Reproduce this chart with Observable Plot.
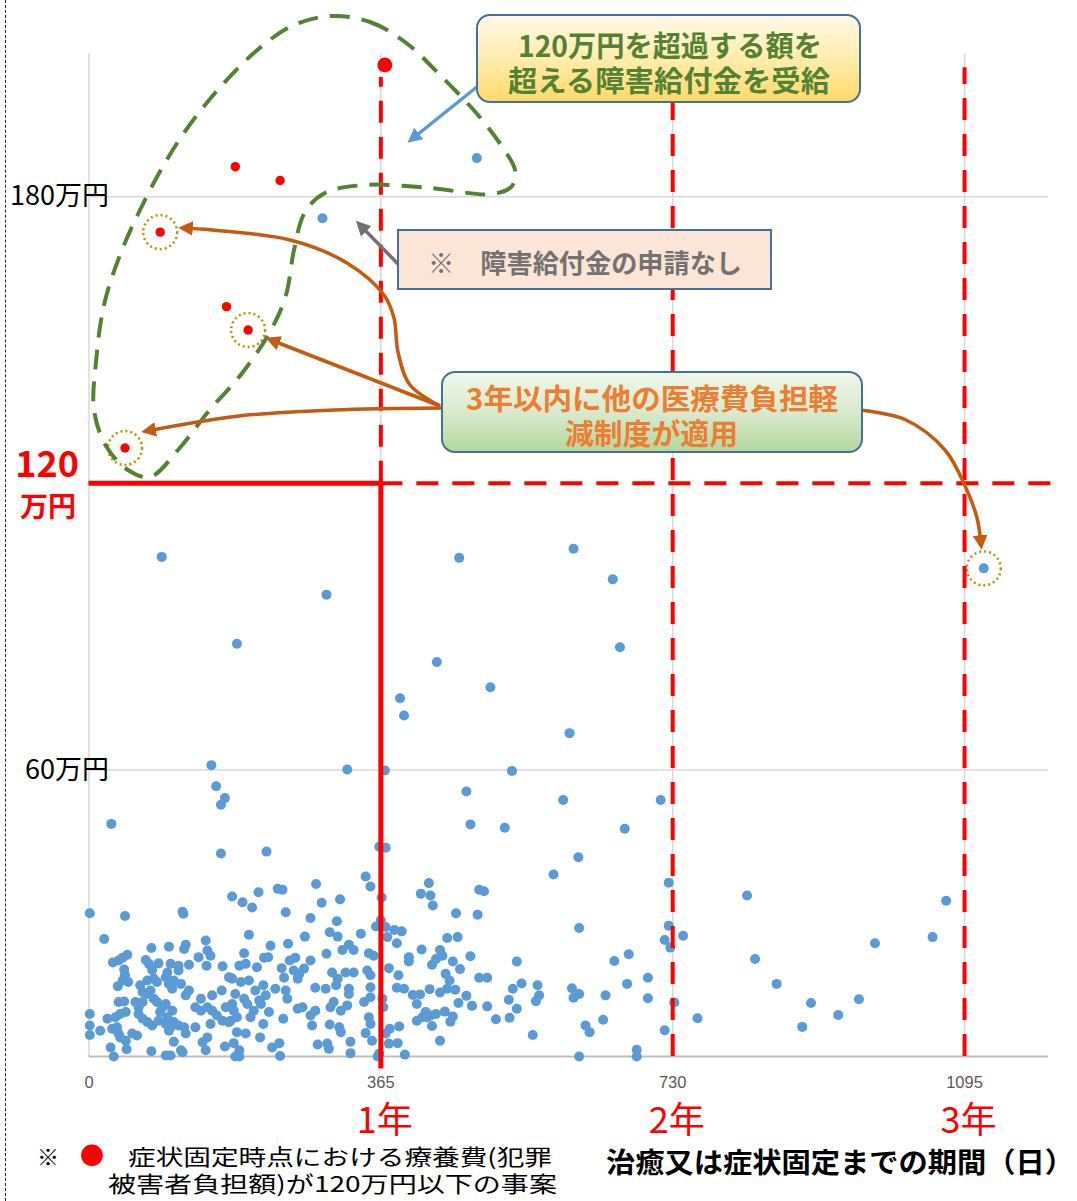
<!DOCTYPE html>
<html><head><meta charset="utf-8">
<script src="https://cdn.jsdelivr.net/npm/d3@7"></script>
<script src="https://cdn.jsdelivr.net/npm/@observablehq/plot@0.6"></script>
<style>
body{margin:0;background:#fff;}
#wrap{position:relative;width:1077px;height:1201px;overflow:hidden;}
#border{position:absolute;left:5px;top:0;height:1201px;border-left:1.5px dashed #222;}
#wrap svg{display:block;}
</style></head><body>
<div id="wrap"><div id="border"></div></div>
<script>
const JP = '"Noto Sans CJK JP", "Noto Sans", sans-serif';

// ---- data: [days until cure/fixation, cost (万円)] ----
const blueCases = [
[91,104.6],[297,96.7],[185,86.4],[463,104.4],[435,82.6],[502,77.3],[389,75.0],[394,71.4],[153,61.0],[323,60.1],[370,59.9],[529,59.8],[159,56.6],[170,54.1],[165,52.7],[472,55.5],[28,48.7],[477,48.6],[520,47.9],[165,42.5],[222,42.9],[363,43.9],[371,43.7],[346,37.7],[581,38.1],
[606,106.3],[655,99.9],[664,85.7],[601,67.7],[1119,102.2],[593,53.7],[715,53.7],[670,47.7],[612,41.7],[725,36.4],[823,33.7],[1072,32.6],[613,26.9],[725,27.4],[720,24.4],[727,22.8],[743,25.3],[983,23.7],[1055,25.0],[833,20.4],[657,20.0],[675,21.4],[860,15.2],[673,15.2],[699,16.5],[699,12.2],[604,14.3],[613,13.1],[606,12.3],[646,12.8],[732,11.3],[761,8.0],[903,11.2],[963,12.0],[937,8.7],[892,6.2],[621,6.5],[626,5.1],[643,7.7],[720,5.5],[685,1.4],[685,0],[613,0],
[485,188.1],[292,175.5],
[179,33.5],[1,30.0],[45,29.4],[117,30.3],[118,29.9],[19,24.6],[100,23.0],[78,22.7],[121,23.4],[119,22.5],[146,24.3],[148,22.2],[152,21.1],[48,21.3],[42,20.7],[30,19.7],[37,20.1],[71,20.2],[75,19.4],[87,19.5],[102,19.4],[112,19.0],[125,19.2],[137,20.8],[147,19.0],[167,18.9],[44,18.2],[45,17.0],[42,15.9],[79,18.1],[98,17.6],[112,18.0],[175,16.6],[179,16.3],[49,15.6],[36,14.7],[64,14.9],[73,15.9],[81,16.3],[85,15.6],[96,16.6],[100,15.2],[106,15.9],[115,15.2],[104,14.2],[125,13.8],[121,12.8],[67,13.5],[73,13.1],[77,13.8],[166,13.8],[154,12.8],[140,12.1],[37,11.4],[44,11.5],[58,11.4],[62,10.3],[67,11.4],[81,12.1],[85,11.4],[92,10.3],[96,11.0],[89,9.3],[104,9.6],[98,8.2],[133,10.3],[140,9.6],[148,10.3],[154,9.6],[160,8.6],[171,10.3],[179,11.0],[1,8.9],[23,7.9],[33,8.2],[39,8.9],[46,9.3],[62,8.9],[67,7.9],[73,7.2],[79,6.5],[87,7.5],[96,6.8],[106,7.2],[112,6.5],[119,6.1],[133,6.1],[152,6.8],[167,7.5],[175,7.2],[1,6.5],[1,4.5],[14,5.4],[29,5.8],[35,6.1],[37,4.8],[39,4.0],[46,3.3],[54,4.8],[60,4.4],[100,5.4],[102,6.1],[121,4.8],[148,4.0],[142,3.0],[106,3.1],[181,2.8],[170,2.1],[27,1.9],[31,0],[47,1.5],[78,1.1],[96,0.2],[102,0.2],[115,1.3],[117,0.9],[146,1.3],[183,0],
[352,35.6],[192,32.3],[204,31.2],[212,34.4],[236,35.1],[242,34.9],[284,36.1],[246,30.2],[291,32.2],[314,32.9],[277,29.0],[310,28.3],[359,27.2],[200,25.5],[270,25.1],[301,26.0],[311,25.1],[340,25.7],[227,23.2],[249,23.6],[317,22.3],[325,23.4],[331,22.3],[350,21.6],[356,21.1],[194,21.6],[219,20.7],[224,20.8],[251,20.1],[258,20.7],[277,20.1],[297,21.5],[188,19.0],[196,19.4],[210,18.7],[241,18.5],[256,18.0],[263,17.3],[269,18.4],[261,16.3],[244,16.5],[304,17.6],[311,16.3],[321,17.6],[331,17.6],[348,18.0],[352,17.0],[177,16.5],[190,15.6],[200,15.9],[309,14.9],[325,14.2],[325,13.1],[352,14.5],[233,14.2],[246,13.8],[218,14.9],[208,13.8],[221,12.8],[283,14.4],[296,14.2],[183,13.1],[194,12.1],[198,11.0],[213,11.7],[215,11.0],[225,9.3],[248,12.1],[261,10.0],[267,10.3],[277,8.6],[283,9.6],[302,10.3],[306,11.4],[315,9.6],[323,10.7],[344,11.4],[352,12.4],[181,9.6],[185,8.2],[177,7.5],[202,8.2],[206,9.6],[243,7.9],[279,6.5],[301,6.7],[313,6.1],[315,5.1],[350,8.2],[352,6.8],[185,5.1],[196,4.8],[218,6.8],[214,4.0],[346,4.9],[188,1.3],[188,0],[229,1.9],[238,2.8],[239,0.1],[286,2.5],[298,2.7],[300,1.6],[327,3.1],[327,0.7],[354,3.3],[361,0],
[366,33.3],[425,36.3],[415,34.1],[427,33.7],[430,31.6],[488,34.9],[494,34.6],[459,30.0],[486,29.7],[365,28.5],[371,27.1],[382,26.5],[391,26.2],[373,25.0],[385,23.7],[448,24.8],[461,25.0],[416,22.4],[439,22.3],[442,21.1],[434,20.4],[429,19.2],[400,20.8],[400,19.9],[455,19.9],[477,21.0],[464,18.3],[535,19.9],[375,18.5],[387,17.0],[446,17.3],[451,15.9],[488,16.5],[498,16.5],[385,14.4],[394,14.2],[426,14.1],[439,13.4],[448,14.2],[458,14.0],[541,15.3],[530,14.2],[561,14.9],[405,12.9],[414,13.0],[410,11.0],[472,12.7],[462,11.2],[563,12.8],[559,11.6],[525,11.9],[535,10.0],[479,10.6],[498,10.5],[367,12.1],[368,10.3],[421,9.3],[427,8.6],[434,8.9],[445,9.4],[410,7.5],[417,8.2],[423,8.2],[455,8.4],[452,7.3],[509,7.8],[526,8.1],[429,6.4],[376,5.8],[388,6.3],[371,4.8],[555,4.5],[439,3.3],[375,2.7],[386,2.8],[395,0.4],[363,0.6]
];
const redCases = [[183,186.3],[239,183.4],[89,172.6],[172,157.0],[199,152.1],[45,127.4]];
const redLarge = [[370,207.6]];
const reliefCases = [[89,172.6],[199,152.1],[45,127.4],[1119,102.2]];
const xTicks = [0,365,730,1095];
const yLabels = [180,60];
const yGrid = [60,180];
const yearMarks = [{day:365,label:"1年"},{day:730,label:"2年"},{day:1095,label:"3年"}];
const threshold = 120;

const RED = "#FF0000";
const dash = "22,14";

const chart = Plot.plot({
  width:1077, height:1201,
  marginLeft:88.5, marginRight:29, marginTop:53, marginBottom:145,
  x:{domain:[0,1200], axis:null},
  y:{domain:[0,210], axis:null},
  style:{fontFamily:JP, background:"#fff", overflow:"visible"},
  marks:[
    Plot.ruleX(xTicks, {stroke:"#D9D9D9", strokeWidth:1.5}),
    Plot.ruleY(yGrid, {stroke:"#D9D9D9", strokeWidth:1.5}),
    Plot.ruleY([0], {stroke:"#BFBFBF", strokeWidth:2}),
    Plot.dot(blueCases, {x:d=>d[0], y:d=>d[1], r:5, fill:"#5B9BD5"}),
    Plot.dot(redCases, {x:d=>d[0], y:d=>d[1], r:4.7, fill:RED}),
    Plot.dot(redLarge, {x:d=>d[0], y:d=>d[1], r:7.4, fill:RED}),
    Plot.dot(reliefCases, {x:d=>d[0], y:d=>d[1], r:17, fill:"none", stroke:"#BF9000", strokeWidth:2.5, strokeDasharray:"2,3"}),
    Plot.ruleY([threshold], {x1:0, x2:365, stroke:RED, strokeWidth:5}),
    Plot.ruleY([threshold], {x1:365, x2:1218, stroke:RED, strokeWidth:4, strokeDasharray:dash}),
    Plot.ruleX([365], {y1:-2.6, y2:threshold, stroke:RED, strokeWidth:5}),
    Plot.ruleX([365], {y1:threshold, y2:205, stroke:RED, strokeWidth:4, strokeDasharray:dash}),
    Plot.ruleX([730,1095], {y1:0, y2:207, stroke:RED, strokeWidth:4, strokeDasharray:dash}),
    Plot.text(xTicks, {x:d=>d, y:0, dy:26, text:d=>String(d), fill:"#595959", fontSize:16.5, fontFamily:"Liberation Sans, sans-serif"}),
    Plot.text(yearMarks, {x:"day", y:0, dy:65, dx:4, text:"label", fill:RED, fontSize:36, fontFamily:JP}),
    Plot.text(yLabels, {x:0, y:d=>d, text:d=>`${d}万円`, textAnchor:"end", dx:20, fontSize:27, fill:"#000", fontFamily:JP}),
    Plot.text([threshold], {x:0, y:d=>d, text:d=>String(d), textAnchor:"end", dx:-10, dy:-18, fontSize:36, fontWeight:"bold", fill:RED, fontFamily:JP}),
    Plot.text([threshold], {x:0, y:d=>d, text:()=>"万円", textAnchor:"end", dx:-13, dy:25, fontSize:28, fontWeight:"bold", fill:RED, fontFamily:JP})
  ]
});
document.getElementById("wrap").appendChild(chart);

// ---- annotation layer ----
const svg = d3.select(chart);
const defs = svg.append("defs");
function grad(id, stops){
  const g = defs.append("linearGradient").attr("id",id).attr("x1",0).attr("y1",0).attr("x2",0).attr("y2",1);
  stops.forEach(([o,c])=>g.append("stop").attr("offset",o).attr("stop-color",c));
}
grad("gY", [["0%","#FFF9E8"],["55%","#FFEBA8"],["100%","#FFD966"]]);
grad("gG", [["0%","#F0F7EB"],["55%","#D5E8C8"],["100%","#B4D79C"]]);
function marker(id, color){
  defs.append("marker").attr("id",id).attr("viewBox","0 0 10 10").attr("refX",6).attr("refY",5)
    .attr("markerWidth",4.2).attr("markerHeight",4.2).attr("orient","auto")
    .append("path").attr("d","M0,0 L10,5 L0,10 z").attr("fill",color);
}
marker("mO","#C55A11"); marker("mB","#5B9BD5"); marker("mG","#767171");

const ann = svg.append("g");
// green dashed loop
const loop = [[331,16],[370,22],[405,42],[440,75],[478,115],[503,148],[515,170],[512,186],[492,194],[430,188],[365,185],[325,193],[305,212],[294,250],[286,295],[271,330],[243,372],[208,412],[178,450],[150,477],[128,470],[106,446],[94,410],[96,362],[104,305],[120,255],[140,210],[162,168],[186,130],[216,92],[255,52],[292,26]];
ann.append("path").attr("d", d3.line().curve(d3.curveCatmullRomClosed)(loop))
  .attr("fill","none").attr("stroke","#548235").attr("stroke-width",4).attr("stroke-dasharray","20,12");

// arrows
const curve = d3.line().curve(d3.curveCatmullRom);
function arrow(pts, color, m, w){
  ann.append("path").attr("d", curve(pts)).attr("fill","none").attr("stroke",color)
    .attr("stroke-width",w).attr("marker-end",`url(#${m})`);
}
arrow([[478,86],[412,139]], "#5B9BD5", "mB", 3.5);
arrow([[400,266],[360,225]], "#767171", "mG", 3.5);
arrow([[440,406],[410,385],[398,352],[394,318],[384,295],[347,263],[290,240],[184,228]], "#C55A11", "mO", 3.5);
arrow([[440,406],[271,340]], "#C55A11", "mO", 3.5);
arrow([[442,408],[334,410],[239,416],[147,431]], "#C55A11", "mO", 3.5);
arrow([[860,410],[906,420],[945,450],[966,488],[977,518],[981,544]], "#C55A11", "mO", 3.5);

// boxes
ann.append("rect").attr("x",477).attr("y",15).attr("width",383).attr("height",87).attr("rx",13)
  .attr("fill","url(#gY)").attr("stroke","#41719C").attr("stroke-width",2);
ann.append("rect").attr("x",398).attr("y",230).attr("width",373).attr("height",59)
  .attr("fill","#FBE5D6").attr("stroke","#41719C").attr("stroke-width",2);
ann.append("rect").attr("x",442).attr("y",372).attr("width",420).attr("height",80).attr("rx",13)
  .attr("fill","url(#gG)").attr("stroke","#41719C").attr("stroke-width",2);

function label(x, y, txt, opts){
  const t = ann.append("text").attr("x",x).attr("y",y).text(txt)
    .attr("font-family",JP).attr("dominant-baseline","central")
    .attr("font-size",opts.size).attr("fill",opts.fill||"#000")
    .attr("font-weight",opts.weight||"normal").attr("text-anchor",opts.anchor||"start");
  if (opts.len) t.attr("textLength",opts.len).attr("lengthAdjust","spacingAndGlyphs");
  return t;
}
label(518,44,"120万円を超過する額を",{size:29,fill:"#548235",weight:"bold",len:304});
label(508,79,"超える障害給付金を受給",{size:29,fill:"#548235",weight:"bold",len:322});
label(428,261,"※　障害給付金の申請なし",{size:26,fill:"#767171",weight:"bold",len:314});
label(466,397,"3年以内に他の医療費負担軽",{size:29,fill:"#ED7D31",weight:"bold",len:372});
label(565,432,"減制度が適用",{size:29,fill:"#ED7D31",weight:"bold",len:173});

// bottom notes
label(48,1155,"※",{size:22,anchor:"middle"});
label(92,1153,"●",{size:24,fill:RED,anchor:"middle"});
label(128,1155,"症状固定時点における療養費(犯罪",{size:22,len:424});
label(108,1182,"被害者負担額)が120万円以下の事案",{size:22,len:449});
label(606,1161,"治癒又は症状固定までの期間（日）",{size:28,weight:"bold",len:468});
</script>
</body></html>
